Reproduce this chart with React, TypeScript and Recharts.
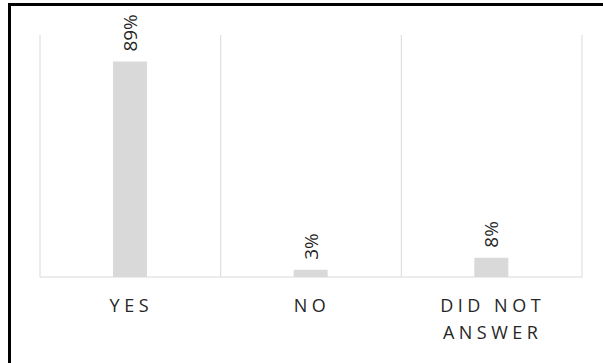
import { Bar, BarChart, CartesianGrid, LabelList, XAxis, YAxis } from "recharts";

const categories = ["YES", "NO", "DID NOT\nANSWER"];
const percents = [89, 3, 8];
const yTicks = [0, 100];

const data = categories.map((name, i) => ({ name, v: percents[i] }));

const TEXT = "#262626";
const FONT = "'Open Sans', 'Noto Sans', sans-serif";

const CategoryTick = (props: any) => {
  const { x, y, payload } = props;
  const lines = String(payload.value).split("\n");
  return (
    <text
      x={x}
      y={y}
      textAnchor="middle"
      fill={TEXT}
      fontFamily={FONT}
      fontSize={18}
      letterSpacing={4.5}
    >
      {lines.map((l, i) => (
        <tspan key={i} x={x + 1} dy={i === 0 ? 35 : 27}>
          {l}
        </tspan>
      ))}
    </text>
  );
};

const ValueLabel = (props: any) => {
  const { x, y, width, value } = props;
  const cx = x + width / 2;
  const ty = y - 10;
  return (
    <text
      x={cx}
      y={ty}
      transform={`rotate(-90 ${cx} ${ty})`}
      textAnchor="start"
      dominantBaseline="central"
      fill={TEXT}
      fontFamily={FONT}
      fontSize={19}
    >
      {value}%
    </text>
  );
};

const App = () => {
  return (
    <div style={{ position: "absolute", left: 0, top: 0, width: 603, height: 363, background: "#fff", overflow: "hidden" }}>
      <div
        style={{
          position: "absolute",
          left: 8,
          top: 3,
          width: 600,
          height: 365,
          borderTop: "3px solid #000",
          borderLeft: "3px solid #000",
          boxSizing: "border-box",
        }}
      />
      <div style={{ position: "absolute", left: 0, top: 0 }}>
        <BarChart data={data} width={603} height={363} margin={{ top: 35, right: 21, bottom: 0, left: 40 }}>
          <CartesianGrid
            horizontal={false}
            stroke="#d9d9d9"
            verticalCoordinatesGenerator={({ offset }: any) =>
              [0, 1, 2, 3].map((i) => offset.left + (i * offset.width) / categories.length)
            }
          />
          <XAxis
            dataKey="name"
            height={86}
            axisLine={{ stroke: "#d9d9d9" }}
            tickLine={false}
            tickSize={0}
            tickMargin={0}
            interval={0}
            tick={<CategoryTick />}
          />
          <YAxis hide domain={[0, 100]} ticks={yTicks} />
          <Bar dataKey="v" fill="#d9d9d9" barSize={34} isAnimationActive={false}>
            <LabelList dataKey="v" content={<ValueLabel />} />
          </Bar>
        </BarChart>
      </div>
    </div>
  );
};

export default App;
